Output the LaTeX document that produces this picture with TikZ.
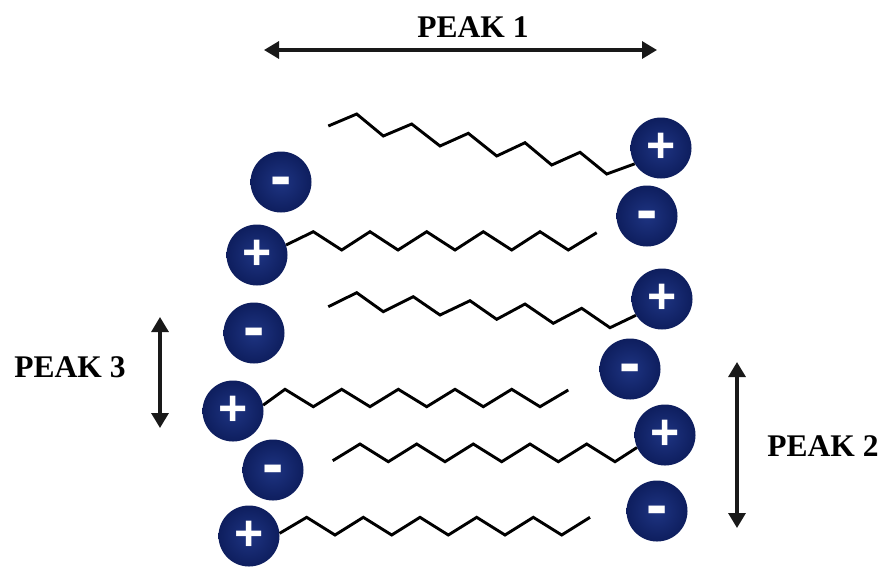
\documentclass[tikz,border=0pt]{standalone}
\usepackage{fontspec}
\setmainfont{Liberation Serif}
\newfontfamily\ionfont{Liberation Sans}
\usetikzlibrary{arrows.meta}
\definecolor{ioncore}{RGB}{30,52,130}
\definecolor{ionedge}{RGB}{14,30,94}
\definecolor{ink}{RGB}{25,25,25}
\newcommand{\anionsign}{\raisebox{-15.5pt}[0pt][0pt]{-}}
\tikzset{
  ion/.style={circle, minimum size=61pt, inner sep=0pt,
    shade, inner color=ioncore, outer color=ionedge,
    text=white},
  cation/.style={ion, font=\ionfont\bfseries\fontsize{50}{50}\selectfont},
  anion/.style={ion, font=\ionfont\bfseries\fontsize{64}{64}\selectfont},
  chainline/.style={draw=black, line width=2.9pt, line join=miter},
  peakarrow/.style={draw=ink, line width=3.2pt,
    {Triangle[length=15pt,width=17pt]}-{Triangle[length=15pt,width=17pt]}},
  peaklabel/.style={font=\bfseries\fontsize{31.5}{36}\selectfont, text=black}
}
\begin{document}
\begin{tikzpicture}[x=1pt, y=-1pt]
\useasboundingbox (0,0) rectangle (882,566);

% headgroups: cations carry the chains, anions sit between layers
\node[cation] (p1) at (661,148) {+};
\node[anion] (m1) at (281,182) {\anionsign};
\node[anion] (m2) at (647,216) {\anionsign};
\node[cation] (p2) at (257,255) {+};
\node[cation] (p3) at (662,299) {+};
\node[anion] (m3) at (254,333) {\anionsign};
\node[anion] (m4) at (630,369) {\anionsign};
\node[cation] (p4) at (233,411) {+};
\node[cation] (p5) at (665,435) {+};
\node[anion] (m5) at (273,470) {\anionsign};
\node[anion] (m6) at (657,511) {\anionsign};
\node[cation] (p6) at (249,536) {+};

% alkyl tails
\draw[chainline] (p1.211) -- (606.7,174) -- (580,152.3) -- (551.7,165) -- (525,142.7)
  -- (496.7,156) -- (468.3,133.3) -- (440,146) -- (411.7,124) -- (383.3,136)
  -- (356.7,114) -- (328.3,126);
\draw[chainline] (p2.19) -- (313.3,231.7) -- (341.7,250) -- (370,231.7) -- (398,250)
  -- (426.7,231.7) -- (455,250) -- (483.3,231.7) -- (511.7,250) -- (540,231.7)
  -- (568.3,250) -- (596.7,232.7);
\draw[chainline] (p3.212) -- (610,327.7) -- (581.7,308.3) -- (553.3,323.3) -- (525,304)
  -- (496.7,319.3) -- (470,300.7) -- (440,315) -- (413.3,296.7) -- (383.3,311.7)
  -- (356.7,292.7) -- (328.3,306.7);
\draw[chainline] (p4.11) -- (285,389.3) -- (313.3,406.7) -- (341.7,389.3) -- (370,406.7)
  -- (398.3,389.3) -- (426.7,406.7) -- (455,389.3) -- (483.3,406.7) -- (511.7,389.3)
  -- (540,406.7) -- (568.3,390);
\draw[chainline] (p5.204) -- (615,461.7) -- (586.7,444) -- (558.3,461.7) -- (530,444)
  -- (501.7,461.7) -- (473.3,444) -- (445,461.7) -- (416.7,444) -- (388.3,461.7)
  -- (360,444) -- (332.7,460.7);
\draw[chainline] (p6.5) -- (306.7,517.3) -- (335,535) -- (363.3,517.3) -- (391.7,535)
  -- (420,517.3) -- (448.3,535) -- (476.7,517.3) -- (505,535) -- (533.3,517.3)
  -- (561.7,535) -- (590,517.3);

% spacing markers
\coordinate (a1) at (264,50);  \coordinate (b1) at (657,50);
\coordinate (a2) at (737,362); \coordinate (b2) at (737,528);
\coordinate (a3) at (160,317); \coordinate (b3) at (160,428);
\draw[peakarrow] (a1) -- (b1);
\draw[peakarrow] (a2) -- (b2);
\draw[peakarrow] (a3) -- (b3);
\node[peaklabel] (l1) at (473,27) {PEAK 1};
\node[peaklabel] (l2) at (823,446) {PEAK 2};
\node[peaklabel] (l3) at (70,367) {PEAK 3};
\end{tikzpicture}
\end{document}
